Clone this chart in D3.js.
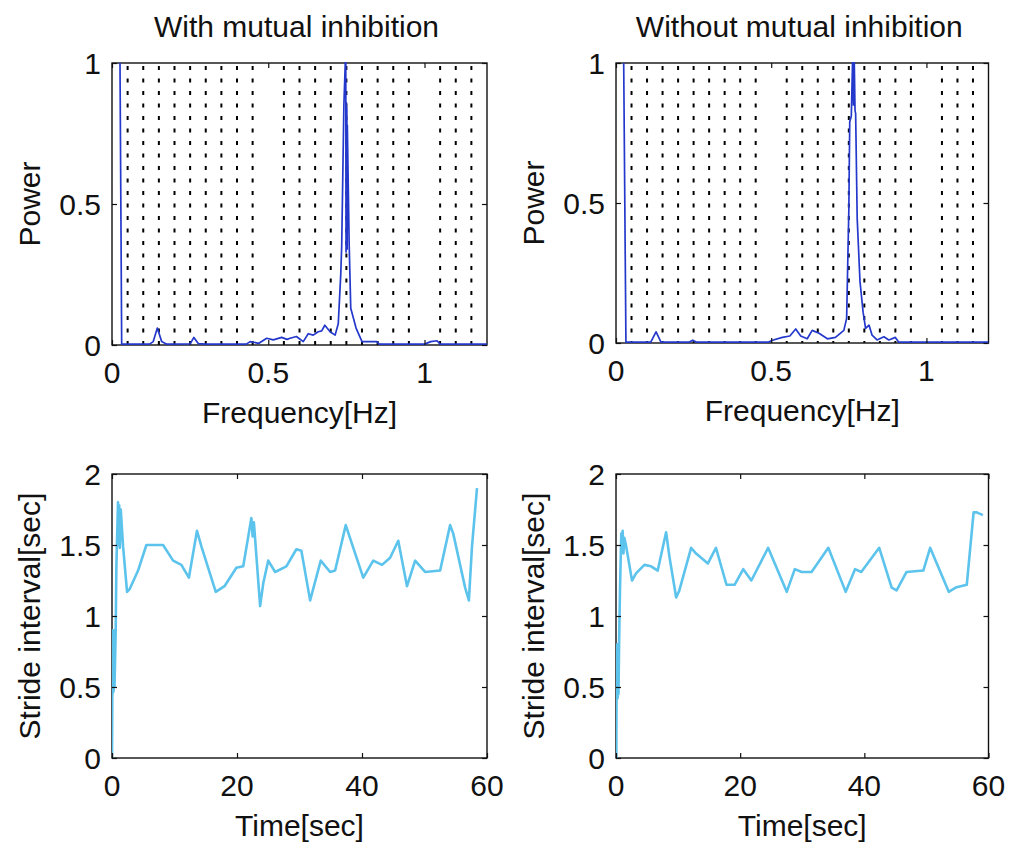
<!DOCTYPE html>
<html>
<head>
<meta charset="utf-8">
<script src="https://cdn.jsdelivr.net/npm/d3@7"></script>
<style>
  html, body { margin: 0; padding: 0; background: #fff; }
  svg { display: block; }
  text { font-family: "Liberation Sans", Arial, Helvetica, sans-serif; fill: #111; }
</style>
</head>
<body>
<svg id="fig" width="1013" height="844"></svg>
<script>
// ---- Power spectra (normalised) ----
const freqWith = [0.0256, 0.031, 0.06, 0.12, 0.132, 0.145, 0.159, 0.175, 0.25, 0.262, 0.276, 0.30, 0.43, 0.442, 0.47, 0.495, 0.516, 0.543, 0.56, 0.57, 0.59, 0.612, 0.628, 0.644, 0.66, 0.671, 0.681, 0.698, 0.714, 0.724, 0.732, 0.735, 0.738, 0.742, 0.748, 0.749, 0.750, 0.751, 0.7515, 0.7525, 0.753, 0.759, 0.764, 0.781, 0.80, 0.847, 0.855, 1.0, 1.02, 1.04, 1.05, 1.2];
const powerWith = [1.0, 0.003, 0.003, 0.003, 0.012, 0.06, 0.012, 0.003, 0.004, 0.027, 0.005, 0.003, 0.003, 0.012, 0.006, 0.024, 0.018, 0.027, 0.02, 0.024, 0.03, 0.012, 0.04, 0.035, 0.047, 0.05, 0.07, 0.047, 0.035, 0.075, 0.25, 0.35, 0.56, 0.85, 1.05, 0.33, 0.86, 0.34, 0.84, 0.34, 0.78, 0.355, 0.13, 0.06, 0.012, 0.012, 0.003, 0.003, 0.012, 0.015, 0.003, 0.003];

const freqWithout = [0.0248, 0.032, 0.06, 0.112, 0.129, 0.145, 0.235, 0.247, 0.26, 0.49, 0.504, 0.536, 0.56, 0.579, 0.595, 0.616, 0.632, 0.654, 0.681, 0.707, 0.734, 0.743, 0.747, 0.75, 0.753, 0.758, 0.763, 0.765, 0.767, 0.770, 0.772, 0.777, 0.786, 0.796, 0.804, 0.815, 0.825, 0.841, 0.863, 0.879, 0.90, 0.911, 1.2];
const powerWithout = [1.0, 0.003, 0.003, 0.003, 0.04, 0.003, 0.003, 0.01, 0.003, 0.003, 0.01, 0.02, 0.025, 0.05, 0.025, 0.015, 0.045, 0.035, 0.015, 0.02, 0.045, 0.088, 0.31, 0.47, 0.79, 0.81, 1.05, 0.85, 1.05, 0.83, 0.82, 0.445, 0.22, 0.11, 0.052, 0.064, 0.028, 0.011, 0.022, 0.011, 0.02, 0.003, 0.003];

// ---- Stride interval time series ----
const timeWith = [0, 0.05, 0.1, 0.15, 0.2, 0.25, 0.3, 0.4, 0.59, 0.7, 0.96, 1.05, 1.15, 1.25, 1.4, 1.77, 2.41, 2.83, 4.17, 5.5, 8.17, 9.78, 11.1, 12.3, 13.6, 14.3, 16.6, 18.0, 19.9, 21.0, 22.3, 22.5, 22.7, 23.7, 24.2, 25.0, 26.1, 27.9, 29.5, 30.3, 31.7, 33.4, 34.9, 35.7, 37.4, 38.3, 40.2, 41.8, 43.2, 44.5, 45.8, 47.2, 48.5, 50.1, 52.5, 54.1, 54.6, 56.5, 57.1, 57.6, 58.4];
const strideWith = [0, 0.46, 0.9, 0.46, 0.9, 0.47, 0.88, 0.5, 0.9, 1.35, 1.8, 1.5, 1.78, 1.48, 1.75, 1.49, 1.17, 1.19, 1.32, 1.5, 1.5, 1.39, 1.36, 1.27, 1.6, 1.49, 1.17, 1.21, 1.34, 1.35, 1.69, 1.56, 1.66, 1.07, 1.23, 1.39, 1.31, 1.35, 1.47, 1.46, 1.11, 1.39, 1.31, 1.32, 1.64, 1.52, 1.27, 1.39, 1.36, 1.41, 1.53, 1.21, 1.39, 1.31, 1.32, 1.64, 1.58, 1.2, 1.11, 1.49, 1.9];

const timeWithout = [0.05, 0.08, 0.2, 0.25, 0.35, 0.4, 0.5, 0.64, 0.85, 0.95, 1.07, 1.2, 1.34, 1.6, 2.58, 3.23, 4.57, 5.65, 6.72, 8.07, 8.6, 9.69, 10.2, 12.1, 12.9, 14.8, 16.1, 17.8, 19.1, 20.5, 21.8, 24.5, 27.5, 28.8, 29.9, 31.5, 34.2, 37.0, 38.5, 39.5, 42.4, 44.4, 45.2, 46.8, 49.5, 50.6, 53.6, 54.7, 56.5, 57.6, 58.1, 59.1];
const strideWithout = [0, 0.41, 0.8, 0.42, 0.8, 0.45, 0.81, 1.18, 1.58, 1.45, 1.6, 1.44, 1.55, 1.5, 1.25, 1.3, 1.36, 1.35, 1.32, 1.59, 1.42, 1.13, 1.18, 1.48, 1.44, 1.37, 1.48, 1.22, 1.22, 1.33, 1.25, 1.48, 1.17, 1.33, 1.31, 1.31, 1.48, 1.17, 1.33, 1.31, 1.48, 1.2, 1.18, 1.31, 1.32, 1.48, 1.17, 1.2, 1.22, 1.73, 1.73, 1.71];

// ---- Axis ticks and labels ----
const freqTicks = [0, 0.5, 1];
const powerTicks = [0, 0.5, 1];
const timeTicks = [0, 20, 40, 60];
const strideTicks = [0, 0.5, 1, 1.5, 2];
const titles = ["With mutual inhibition", "Without mutual inhibition"];

const svg = d3.select("#fig");
const FONT = 30;

function panel(opt) {
  const { x0, x1, y0, y1 } = opt.box;
  const x = d3.scaleLinear().domain(opt.xDomain).range([x0, x1]);
  const y = d3.scaleLinear().domain(opt.yDomain).range([y1, y0]);
  const g = svg.append("g");
  const clipId = "clip" + opt.id;
  g.append("clipPath").attr("id", clipId)
    .append("rect").attr("x", x0).attr("y", y0 - 1).attr("width", x1 - x0).attr("height", y1 - y0 + 2);

  // minor x grid (dotted verticals between the major ticks)
  if (opt.minorStep) {
    const minor = d3.range(opt.xDomain[0] + opt.minorStep, opt.xDomain[1] - 1e-9, opt.minorStep)
      .filter(v => !opt.xTicks.some(t => Math.abs(t - v) < 1e-6));
    g.append("g").selectAll("line").data(minor).join("line")
      .attr("x1", d => x(d)).attr("x2", d => x(d))
      .attr("y1", y0).attr("y2", y1)
      .attr("stroke", "#000").attr("stroke-width", 2)
      .attr("stroke-dasharray", "4 8.5").attr("stroke-dashoffset", 9.5);
  }

  // box
  g.append("rect").attr("x", x0).attr("y", y0).attr("width", x1 - x0).attr("height", y1 - y0)
    .attr("fill", "none").attr("stroke", "#111").attr("stroke-width", 1.4);

  // data line
  const pts = opt.xs.map((v, i) => [v, opt.ys[i]]);
  g.append("path").datum(pts)
    .attr("clip-path", `url(#${clipId})`)
    .attr("fill", "none").attr("stroke", opt.color).attr("stroke-width", opt.width)
    .attr("stroke-linejoin", "round")
    .attr("d", d3.line().x(d => x(d[0])).y(d => y(d[1])));

  // inward ticks on all four sides
  const tl = 5;
  const axB = d3.axisBottom(x).tickValues(opt.xTicks).tickSizeInner(-tl).tickSizeOuter(0).tickFormat("");
  const axT = d3.axisTop(x).tickValues(opt.xTicks).tickSizeInner(-tl).tickSizeOuter(0).tickFormat("");
  const axL = d3.axisLeft(y).tickValues(opt.yTicks).tickSizeInner(-tl).tickSizeOuter(0).tickFormat("");
  const axR = d3.axisRight(y).tickValues(opt.yTicks).tickSizeInner(-tl).tickSizeOuter(0).tickFormat("");
  [[axB, `translate(0,${y1})`], [axT, `translate(0,${y0})`], [axL, `translate(${x0},0)`], [axR, `translate(${x1},0)`]]
    .forEach(([ax, tr]) => {
      const a = g.append("g").attr("transform", tr).call(ax);
      a.select(".domain").remove();
      a.selectAll("line").attr("stroke", "#111").attr("stroke-width", 1.2);
    });

  // tick labels
  const fmt = d3.format("~g");
  g.append("g").selectAll("text").data(opt.xTicks).join("text")
    .attr("x", d => x(d)).attr("y", y1 + 38)
    .attr("text-anchor", "middle").attr("font-size", FONT).text(fmt);
  g.append("g").selectAll("text").data(opt.yTicks).join("text")
    .attr("x", x0 - 11).attr("y", d => y(d) + 11)
    .attr("text-anchor", "end").attr("font-size", FONT).text(fmt);

  // axis titles
  g.append("text").attr("x", (x0 + x1) / 2).attr("y", y1 + 78)
    .attr("text-anchor", "middle").attr("font-size", FONT).text(opt.xLabel);
  g.append("text").attr("transform", `translate(${x0 - 72},${(y0 + y1) / 2}) rotate(-90)`)
    .attr("text-anchor", "middle").attr("font-size", FONT).text(opt.yLabel);
  if (opt.title) {
    g.append("text").attr("x", (x0 + x1) / 2 - 3).attr("y", 37)
      .attr("text-anchor", "middle").attr("font-size", FONT).attr("fill", "#222").text(opt.title);
  }
}

const spectrumBlue = "#2438cc";
const strideBlue = "#5cc3ec";

panel({ id: 1, box: { x0: 112, x1: 487, y0: 63, y1: 345 }, xDomain: [0, 1.2], yDomain: [0, 1],
  xTicks: freqTicks, yTicks: powerTicks, minorStep: 0.05, xs: freqWith, ys: powerWith,
  color: spectrumBlue, width: 1.7, xLabel: "Frequency[Hz]", yLabel: "Power", title: titles[0] });
panel({ id: 2, box: { x0: 616, x1: 988.5, y0: 63, y1: 343 }, xDomain: [0, 1.2], yDomain: [0, 1],
  xTicks: freqTicks, yTicks: powerTicks, minorStep: 0.05, xs: freqWithout, ys: powerWithout,
  color: spectrumBlue, width: 1.7, xLabel: "Frequency[Hz]", yLabel: "Power", title: titles[1] });
panel({ id: 3, box: { x0: 112, x1: 487, y0: 474, y1: 758 }, xDomain: [0, 60], yDomain: [0, 2],
  xTicks: timeTicks, yTicks: strideTicks, xs: timeWith, ys: strideWith,
  color: strideBlue, width: 2.6, xLabel: "Time[sec]", yLabel: "Stride interval[sec]" });
panel({ id: 4, box: { x0: 616, x1: 988.5, y0: 474, y1: 758 }, xDomain: [0, 60], yDomain: [0, 2],
  xTicks: timeTicks, yTicks: strideTicks, xs: timeWithout, ys: strideWithout,
  color: strideBlue, width: 2.6, xLabel: "Time[sec]", yLabel: "Stride interval[sec]" });
</script>
</body>
</html>
